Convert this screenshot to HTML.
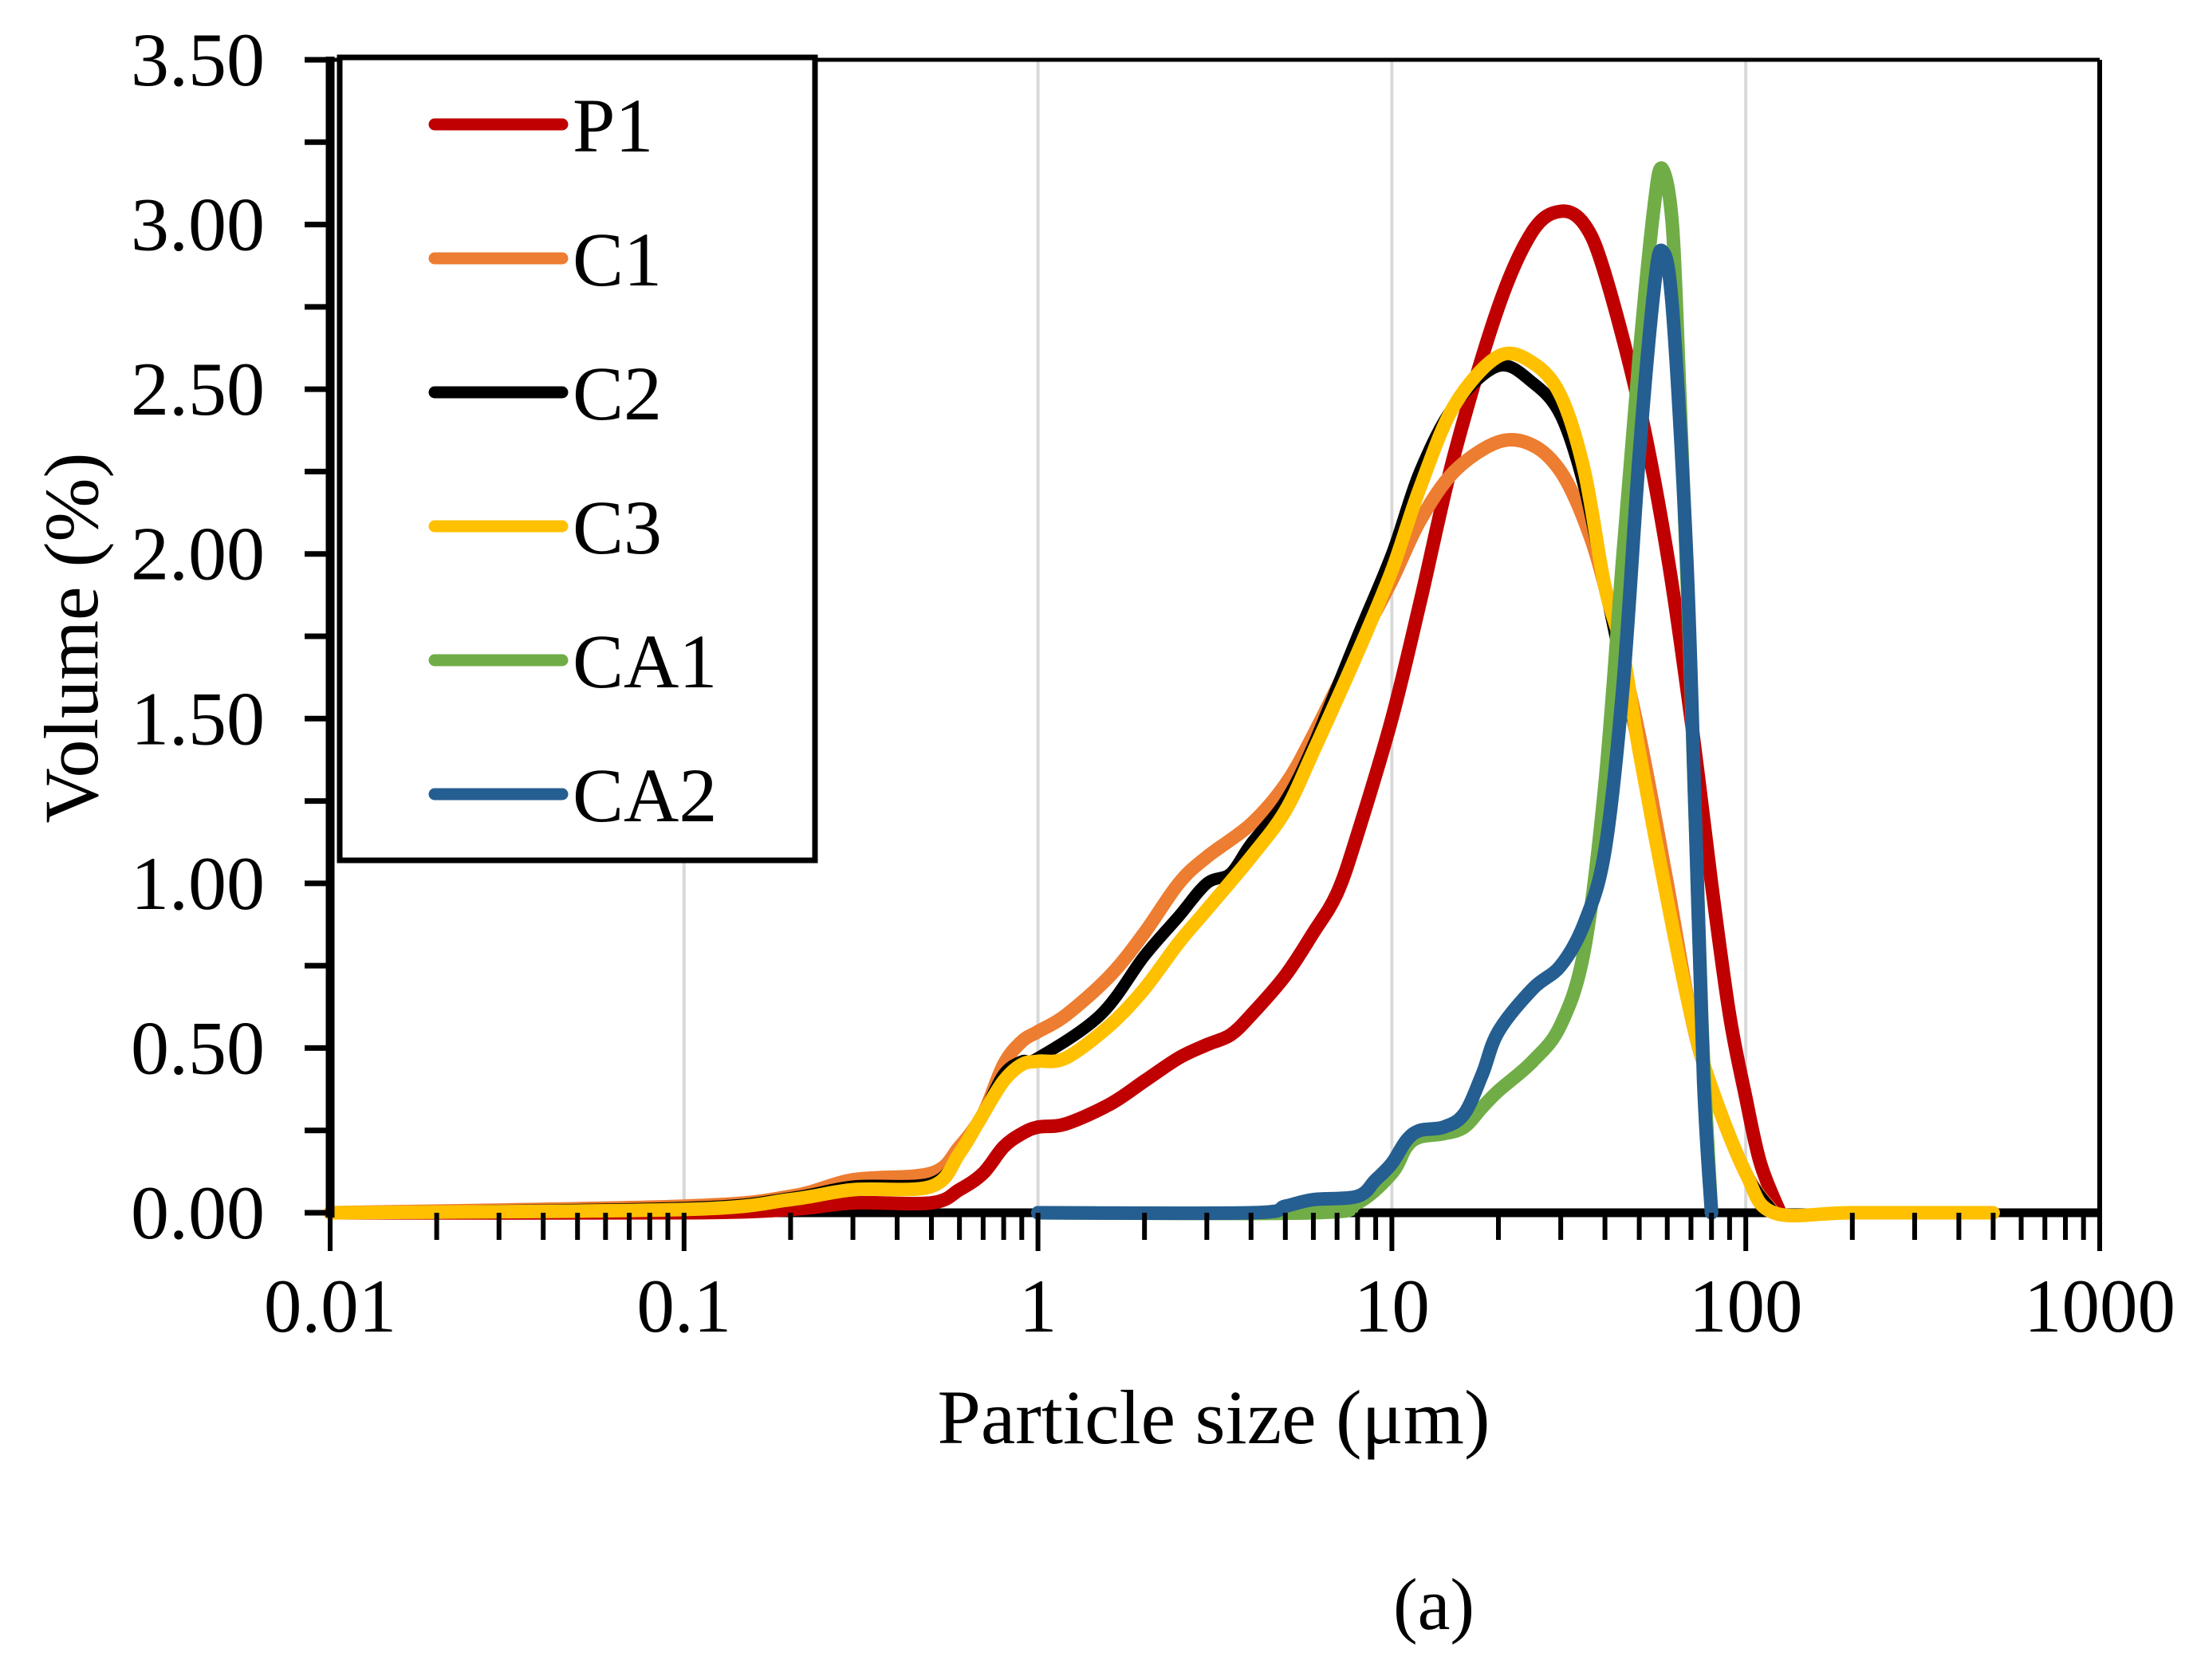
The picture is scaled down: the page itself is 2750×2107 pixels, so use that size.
<!DOCTYPE html>
<html><head><meta charset="utf-8"><style>
html,body{margin:0;padding:0;background:#fff;}
svg text{font-family:"Liberation Serif",serif;fill:#000;}
</style></head><body>
<svg id="chart" width="2750" height="2102" viewBox="0 0 2750 2102" xmlns="http://www.w3.org/2000/svg">
<g id="grid"></g>
<g id="series"></g>
<g id="axes"></g>
<g id="legend"></g>
<text transform="translate(122,800) rotate(-90)" text-anchor="middle" font-size="96" textLength="465" lengthAdjust="spacingAndGlyphs">Volume (%)</text>
<text x="1522" y="1810" text-anchor="middle" font-size="96" textLength="693" lengthAdjust="spacingAndGlyphs">Particle size (μm)</text>
<text x="1798" y="2043" text-anchor="middle" font-size="92">(a)</text>
</svg>
<script>
const yTicks=[0,0.5,1,1.5,2,2.5,3,3.5];
const yTickLabels=["0.00","0.50","1.00","1.50","2.00","2.50","3.00","3.50"];
const xTicks=[0.01,0.1,1,10,100,1000];
const xTickLabels=["0.01","0.1","1","10","100","1000"];
const seriesNames=["P1","C1","C2","C3","CA1","CA2"];
const seriesColors=["#c00000","#ed7d31","#000000","#ffc000","#70ad47","#255e91"];
const P1x=[0.01,0.1,0.2,0.3,0.5,0.6,0.7,0.8,0.9,1,1.2,1.6,2,2.5,3,3.5,4,5,6,7,8,10,12,15,20,25,30,35,40,50,60,70,80,90,100,110,125];
const P1y=[0,0,0.01,0.03,0.03,0.07,0.12,0.2,0.24,0.26,0.27,0.33,0.4,0.47,0.51,0.54,0.6,0.72,0.85,0.97,1.15,1.5,1.85,2.3,2.75,2.98,3.04,3.0,2.85,2.45,2.0,1.5,1.0,0.6,0.35,0.15,0];
const C1x=[0.01,0.1,0.2,0.3,0.5,0.6,0.7,0.8,0.9,1,1.2,1.6,2,2.5,3,4,5,6,8,10,12,15,20,25,30,35,40,50,60,70,80,100,120];
const C1y=[0,0.02,0.05,0.1,0.12,0.2,0.3,0.45,0.52,0.55,0.6,0.72,0.85,1.0,1.08,1.18,1.3,1.45,1.72,1.92,2.1,2.25,2.34,2.33,2.25,2.1,1.9,1.45,1.0,0.6,0.38,0.12,0];
const C2x=[0.01,0.1,0.2,0.3,0.5,0.6,0.7,0.8,0.9,1,1.5,2,2.5,3,3.5,4,5,6,8,10,12,15,20,25,30,35,40,50,60,70,80,100,120];
const C2y=[0,0.015,0.045,0.08,0.09,0.18,0.3,0.42,0.46,0.47,0.6,0.78,0.9,1.0,1.03,1.12,1.25,1.42,1.75,2.0,2.25,2.45,2.57,2.52,2.42,2.2,1.9,1.4,0.95,0.6,0.38,0.12,0];
const C3x=[0.01,0.1,0.2,0.3,0.5,0.6,0.7,0.8,0.9,1,1.2,1.6,2,2.5,3,4,5,6,8,10,12,15,20,25,30,35,40,45,50,60,70,80,100,120,200,500];
const C3y=[0,0.01,0.04,0.07,0.08,0.18,0.3,0.4,0.45,0.46,0.47,0.57,0.68,0.82,0.92,1.08,1.22,1.4,1.7,1.95,2.2,2.45,2.6,2.58,2.48,2.25,1.9,1.7,1.4,0.95,0.6,0.38,0.12,0,0,0];
const CA1x=[1,6,8,10,11,12,14,16,18,20,25,30,35,40,45,50,55,58,62,65,70,75,80];
const CA1y=[0,0,0.03,0.12,0.2,0.23,0.24,0.26,0.32,0.37,0.46,0.57,0.8,1.3,2.0,2.6,3.05,3.17,3.0,2.5,1.6,0.6,0];
const CA2x=[1,4,5,6,8,9,10,11,12,14,16,18,20,25,30,35,40,45,50,55,58,62,68,72,76,80];
const CA2y=[0,0,0.02,0.04,0.05,0.1,0.15,0.22,0.25,0.26,0.3,0.42,0.55,0.68,0.75,0.88,1.1,1.6,2.3,2.8,2.92,2.75,2.0,1.2,0.4,0];
const seriesX=[P1x,C1x,C2x,C3x,CA1x,CA2x];
const seriesY=[P1y,C1y,C2y,C3y,CA1y,CA2y];

const NS="http://www.w3.org/2000/svg";
const L=414,R=2633,T=75,B=1521;
function xs(v){return L+(Math.log10(v)+2)/5*(R-L);}
function ys(v){return B-v/3.5*(B-T);}
function mk(tag,attrs,parent){const e=document.createElementNS(NS,tag);for(const k in attrs)e.setAttribute(k,attrs[k]);parent.appendChild(e);return e;}
function smoothPath(pts){
  let d='M'+pts[0][0].toFixed(1)+','+pts[0][1].toFixed(1);
  for(let i=0;i<pts.length-1;i++){
    const p0=pts[Math.max(0,i-1)],p1=pts[i],p2=pts[i+1],p3=pts[Math.min(pts.length-1,i+2)];
    const c1x=p1[0]+(p2[0]-p0[0])/6,c1y=p1[1]+(p2[1]-p0[1])/6;
    const c2x=p2[0]-(p3[0]-p1[0])/6,c2y=p2[1]-(p3[1]-p1[1])/6;
    d+=' C'+c1x.toFixed(1)+','+c1y.toFixed(1)+' '+c2x.toFixed(1)+','+c2y.toFixed(1)+' '+p2[0].toFixed(1)+','+p2[1].toFixed(1);
  }
  return d;
}
const grid=document.getElementById('grid'),axes=document.getElementById('axes'),ser=document.getElementById('series'),leg=document.getElementById('legend');
xTicks.forEach((t,i)=>{
  if(i>0&&i<xTicks.length-1){const g=mk('line',{x1:xs(t),x2:xs(t),y1:T,y2:B,stroke:'#d9d9d9','stroke-width':4},grid);
  
  }
});
// x-axis line under series
let a=mk('line',{x1:L,x2:R,y1:B,y2:B,stroke:'#000','stroke-width':11},grid);


seriesNames.forEach((n,i)=>{
  const pts=seriesX[i].map((x,j)=>[xs(x),ys(seriesY[i][j])]);
  const p=mk('path',{d:smoothPath(pts),fill:'none',stroke:seriesColors[i],'stroke-width':i===2?15:17,'stroke-linejoin':'round','stroke-linecap':'round'},ser);
  
  
});
a=mk('line',{x1:L,x2:R,y1:T,y2:T,stroke:'#000','stroke-width':5},axes);


a=mk('line',{x1:R,x2:R,y1:T,y2:B,stroke:'#000','stroke-width':6},axes);


a=mk('line',{x1:L,x2:L,y1:T-4,y2:B+6,stroke:'#000','stroke-width':11},axes);


for(let v=0;v<=3.5001;v+=0.25){const t=mk('line',{x1:L-32,x2:L,y1:ys(v),y2:ys(v),stroke:'#000','stroke-width':7},axes);
  
  }
yTicks.forEach((v,i)=>{const t=mk('text',{x:332,y:ys(v)+32,'text-anchor':'end','font-size':95,textLength:168,lengthAdjust:'spacingAndGlyphs'},axes);t.textContent=yTickLabels[i];
  
  });
for(let d=-2;d<3;d++){for(let m=1;m<=9;m++){const v=m*Math.pow(10,d);const len=m===1?48:34;
  const t=mk('line',{x1:xs(v),x2:xs(v),y1:B,y2:B+len,stroke:'#000','stroke-width':6},axes);
  
  }}
const tl=mk('line',{x1:R,x2:R,y1:B,y2:B+48,stroke:'#000','stroke-width':6},axes);


xTicks.forEach((v,i)=>{const t=mk('text',{x:xs(v),y:1670,'text-anchor':'middle','font-size':95},axes);t.textContent=xTickLabels[i];
  
  });
const box=mk('rect',{x:426,y:72,width:596,height:1007,fill:'#fff',stroke:'#000','stroke-width':7},leg);


seriesNames.forEach((n,i)=>{const y=156+i*168;
  const l=mk('line',{x1:545,x2:705,y1:y,y2:y,stroke:seriesColors[i],'stroke-width':15,'stroke-linecap':'round'},leg);
  
  
  const t=mk('text',{x:718,y:y+34,'font-size':96},leg);t.textContent=n;
  
  
});
</script>
</body></html>
